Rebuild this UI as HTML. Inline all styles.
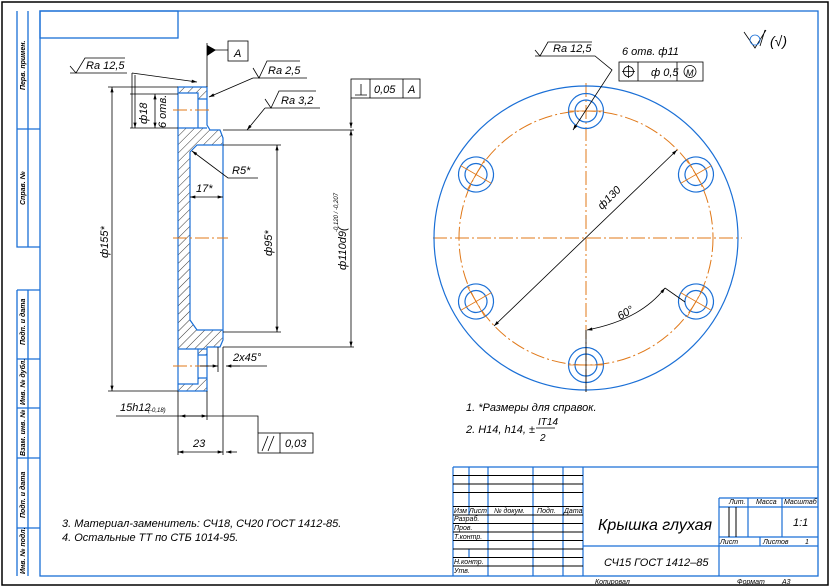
<!DOCTYPE html>
<html><head><meta charset="utf-8"><style>
html,body{margin:0;padding:0;background:#fff}
svg{display:block}
text{font-family:"Liberation Sans","DejaVu Sans",sans-serif;font-style:italic;fill:#000}
</style></head><body>
<svg width="830" height="588" viewBox="0 0 830 588" xmlns="http://www.w3.org/2000/svg">
<defs>
<pattern id="h" width="6" height="6" patternUnits="userSpaceOnUse" patternTransform="rotate(45)">
<line x1="0" y1="0" x2="0" y2="6" stroke="#000" stroke-width="0.8"/></pattern>
<marker id="a" viewBox="0 0 10 6" refX="10" refY="3" markerWidth="8" markerHeight="4" orient="auto-start-reverse"><path d="M0,0L10,3L0,6z" fill="#000"/></marker>
</defs>
<rect x="2" y="2" width="826" height="583" fill="none" stroke="#000" stroke-width="1.5"/>
<g stroke="#1a6fd6" stroke-width="1.3" fill="none">
<rect x="40" y="11" width="778" height="565"/>
<rect x="40" y="11" width="138" height="27"/>
<path d="M17,11V247H40M17,129H40M28,11V247"/>
<path d="M17,290V576M28,290V576M17,290H40M17,359H40M17,408H40M17,458H40M17,528H40"/>
</g>
<g font-size="7" font-weight="bold">
<text transform="translate(25,90) rotate(-90)">Перв. примен.</text>
<text transform="translate(25,205) rotate(-90)">Справ. №</text>
<text transform="translate(25,345) rotate(-90)">Подп. и дата</text>
<text transform="translate(25,405) rotate(-90)">Инв. № дубл.</text>
<text transform="translate(25,456) rotate(-90)">Взам. инв. №</text>
<text transform="translate(25,518) rotate(-90)">Подп. и дата</text>
<text transform="translate(25,574) rotate(-90)">Инв. № подл.</text>
</g>
<!-- title block -->
<g stroke="#1a6fd6" stroke-width="1.2" fill="none">
<path d="M453,467H818M453,467V576M583,467V576M583,546H818M719,498V576M719,498H818M719,507H818M719,537H818M748,498V537M782,498V537M760,537V546"/>
<path d="M469,467V515M488,467V576M533,467V576M563,467V576M469,549V557"/>
</g>
<g stroke="#000" stroke-width="1" fill="none">
<path d="M453,475.5H583M453,484H583M453,492.5H583M453,506.5H583M453,515H583M453,523.5H583M453,532H583M453,540.5H583M453,549H583M453,557.5H583M453,566H583"/>
<path d="M729,507V537M736,507V537"/>
</g>
<g font-size="7">
<text x="454" y="513">Изм Лист</text><text x="494" y="513">№ докум.</text><text x="537" y="513">Подп.</text><text x="564" y="513">Дата</text>
<text x="454" y="521">Разраб.</text><text x="454" y="530">Пров.</text><text x="454" y="539">Т.контр.</text>
<text x="454" y="564">Н.контр.</text><text x="454" y="573">Утв.</text>
<text x="729" y="504">Лит.</text><text x="756" y="504">Масса</text><text x="784" y="504">Масштаб</text>
<text x="720" y="544">Лист</text><text x="763" y="544">Листов</text><text x="805" y="544">1</text>
<text x="595" y="584">Копировал</text><text x="737" y="584">Формат</text><text x="782" y="584">А3</text>
</g>
<text x="598" y="530" font-size="16">Крышка глухая</text>
<text x="604" y="566" font-size="11">СЧ15 ГОСТ 1412–85</text>
<text x="793" y="526" font-size="11">1:1</text>
<!-- section view -->
<path d="M178,87H207V125L210,130H220L223,138V340L220,347H207V391H178Z" fill="url(#h)" stroke="none"/>
<path d="M223,145H197L190,152V320L197,330H223Z" fill="#fff"/>
<path d="M178,93H198V99H207V128H178Z" fill="#fff"/>
<path d="M178,349H198V355H207V378H198V384H178Z" fill="#fff"/>
<g stroke="#1a6fd6" stroke-width="1.2" fill="none">
<path d="M178,87H207V125L210,130H220L223,138V340L220,347H207V391H178Z"/>
<path d="M223,145H197L190,152V320L197,330H223"/>
<path d="M178,93H198V99H207M198,99V128M178,128H207"/>
<path d="M178,349H207M198,349V355H207M198,355V378H207M198,378V384H178"/>
</g>
<g stroke="#e07818" stroke-width="1" stroke-dasharray="14,3,2,3">
<path d="M173,110H212M173,366H212M173,238H228"/>
</g>
<g stroke="#000" stroke-width="0.8" fill="none">
<path d="M108,87H178M108,391H178"/>
<path d="M112,87V391" marker-start="url(#a)" marker-end="url(#a)"/>
<path d="M130,94H178M130,128H178"/>
<path d="M135,75V128" marker-end="url(#a)"/>
<path d="M155,94V128" marker-start="url(#a)" marker-end="url(#a)"/>
<path d="M223,145H281M223,332H281"/>
<path d="M277,145V332" marker-start="url(#a)" marker-end="url(#a)"/>
<path d="M223,130H354M223,347H354"/>
<path d="M351,130V347" marker-start="url(#a)" marker-end="url(#a)"/>
<path d="M351,98V128" marker-end="url(#a)"/>
<path d="M190,197H223" marker-start="url(#a)" marker-end="url(#a)"/>
<path d="M258,178H228L192,151" marker-end="url(#a)"/>
<path d="M218,347V372M267,366H230"/>
<path d="M200,366H218" marker-end="url(#a)"/><path d="M240,366H226" marker-end="url(#a)"/>
<path d="M116,416H258V433"/>
<path d="M178,391V455M223,347V455M207,391V420"/>
<path d="M180,416H207" marker-start="url(#a)" marker-end="url(#a)"/>
<path d="M178,452H223" marker-start="url(#a)" marker-end="url(#a)"/>
<path d="M237,452H226" marker-end="url(#a)"/>
<rect x="258" y="433" width="55" height="20"/><path d="M280,433V453M262,451L268,436M268,451L274,436"/>
<path d="M207,43V87"/>
<path d="M207,50H228"/>
<rect x="228" y="41" width="20" height="20"/>
<path d="M70,73H127M70,66L76,73L85,58H125"/>
<path d="M132,73L197,82" marker-end="url(#a)"/>
<path d="M132,73V128"/>
<path d="M253,78H307M253,68L259,78L267,61H300"/>
<path d="M253,78L209,97" marker-end="url(#a)"/>
<path d="M265,108H320M265,99L271,108L279,91H316"/>
<path d="M265,108L247,130" marker-end="url(#a)"/>
<rect x="351" y="79" width="69" height="19"/><path d="M370,79V98M403,79V98M355,95H367M361,84V95"/>
</g>
<path d="M207,45L216,50L207,56Z" fill="#000"/>
<g font-size="11">
<text x="86" y="69">Ra 12,5</text>
<text x="268" y="74">Ra 2,5</text>
<text x="281" y="104">Ra 3,2</text>
<text x="234" y="57">A</text>
<text x="374" y="93">0,05</text><text x="408" y="93">A</text>
<text x="232" y="174">R5*</text>
<text x="196" y="192">17*</text>
<text x="233" y="361">2x45°</text>
<text x="120" y="411">15h12</text><text x="148" y="412" font-size="6">(-0,18)</text>
<text x="193" y="447">23</text>
<text x="285" y="447">0,03</text>
<text transform="translate(108,258) rotate(-90)">ф155*</text>
<text transform="translate(147,124) rotate(-90)">ф18</text>
<text transform="translate(166,128) rotate(-90)">6 отв.</text>
<text transform="translate(272,256) rotate(-90)">ф95*</text>
<text transform="translate(346,270) rotate(-90)">ф110d9(</text>
<text transform="translate(338,232) rotate(-90)" font-size="6">-0,120 / -0,207</text>
</g>
<!-- circular view -->
<g stroke="#e07818" stroke-width="1" fill="none" stroke-dasharray="14,3,2,3">
<circle cx="586" cy="238" r="127"/>
<path d="M433,238H742M586,83V392"/>
</g>
<g stroke="#1a6fd6" stroke-width="1.2" fill="none">
<circle cx="586" cy="238" r="152"/>
<g id="hl"><circle cx="586" cy="111" r="17.5"/><circle cx="586" cy="111" r="11"/></g>
<use href="#hl" transform="rotate(60 586 238)"/><use href="#hl" transform="rotate(120 586 238)"/>
<use href="#hl" transform="rotate(180 586 238)"/><use href="#hl" transform="rotate(240 586 238)"/><use href="#hl" transform="rotate(300 586 238)"/>
</g>
<g stroke="#e07818" stroke-width="0.8">
<path d="M568,111H604M586,93V129" transform="rotate(60 586 238)"/>
<path d="M568,111H604M586,93V129" transform="rotate(120 586 238)"/>
<path d="M568,111H604M586,93V129" transform="rotate(240 586 238)"/>
<path d="M568,111H604M586,93V129" transform="rotate(300 586 238)"/>
<path d="M568,111H604"/><path d="M568,111H604" transform="rotate(180 586 238)"/>
</g>
<g stroke="#000" stroke-width="0.8" fill="none">
<path d="M494,326L677,150" marker-start="url(#a)" marker-end="url(#a)"/>
<path d="M586,330V392"/>
<path d="M587,330Q640,320 665,288" marker-start="url(#a)" marker-end="url(#a)"/>
<path d="M665,288L685,302"/>
<path d="M535,56H595L612,70L573,130" marker-end="url(#a)"/>
<path d="M535,50L540,56L548,42H592"/>
<rect x="619" y="62" width="84" height="19"/><path d="M638,62V81M677,62V81"/>
<circle cx="628.5" cy="71.5" r="5"/><path d="M622,71.5H635M628.5,65V78"/>
<circle cx="690" cy="71.5" r="6"/>
<path d="M744,32L755,48L766,30M760,46L765,30"/>
<circle cx="755" cy="40" r="5" stroke="#1a6fd6"/>
</g>
<g font-size="11">
<text x="553" y="52">Ra 12,5</text>
<text x="622" y="55">6 отв. ф11</text>
<text x="651" y="76">ф 0,5</text>
<text x="686" y="76" font-size="9">M</text>
<text x="770" y="46" font-size="14">(√)</text>
<text transform="translate(602,210) rotate(-45)">ф130</text>
<text transform="translate(620,320) rotate(-30)">60°</text>
<text x="466" y="411">1. *Размеры для справок.</text>
<text x="466" y="433">2. H14, h14, ±</text>
<text x="538" y="425" font-size="10">IT14</text>
<text x="540" y="441" font-size="10">2</text>
<text x="62" y="527">3. Материал-заменитель: СЧ18, СЧ20 ГОСТ 1412-85.</text>
<text x="62" y="541">4. Остальные ТТ по СТБ 1014-95.</text>
</g>
<path d="M536,428H555" stroke="#000" stroke-width="0.8"/>
</svg>
</body></html>
